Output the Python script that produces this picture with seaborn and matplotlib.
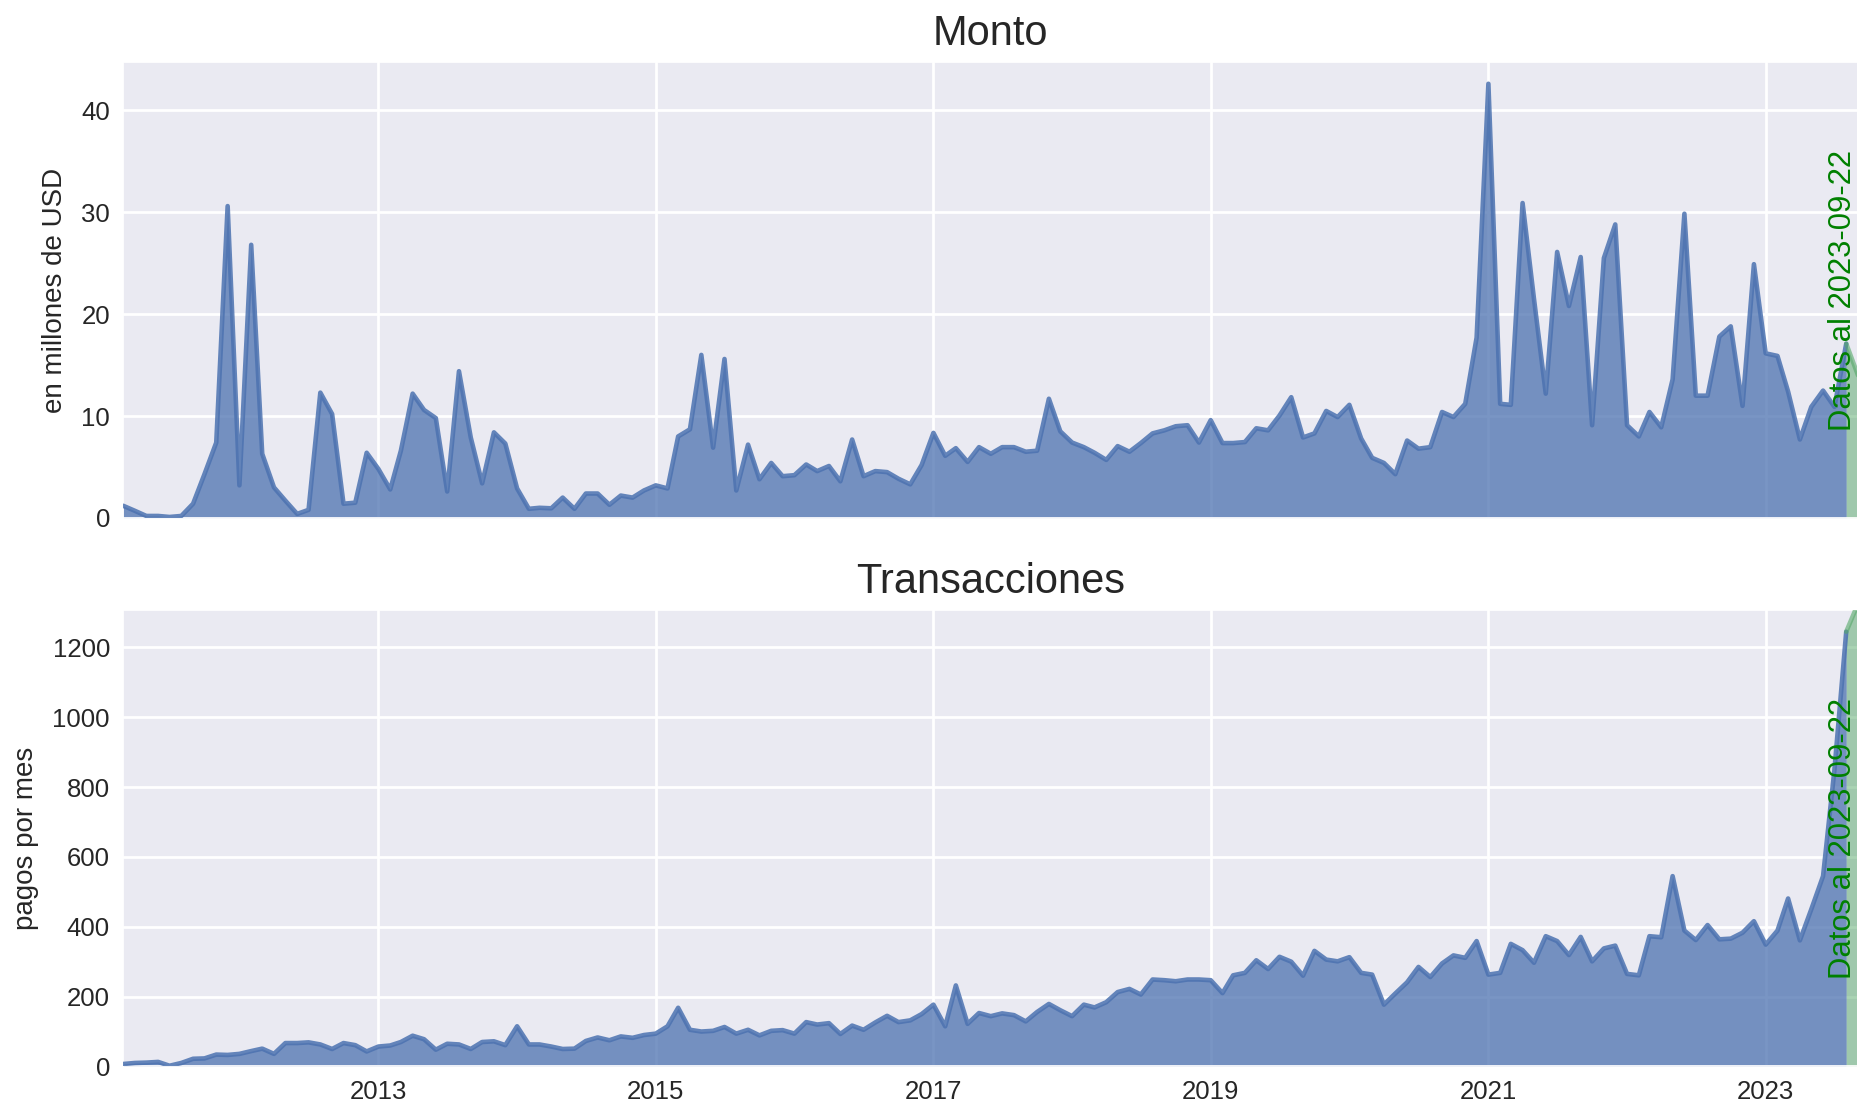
import numpy as np
import pandas as pd
import matplotlib
matplotlib.use("Agg")
import matplotlib.pyplot as plt
import matplotlib.transforms as mtransforms
import seaborn as sns

# ---------------- data ----------------
start_month = "2011-03-01"
partial_month = "2023-09-01"
data_date_label = "Datos al 2023-09-22"

monto = [
    1.2, 0.7, 0.2, 0.2, 0.1, 0.2, 1.4, 4.3, 7.4, 30.6,
    3.2, 26.8, 6.3, 3.0, 1.7, 0.4, 0.8, 12.3, 10.2, 1.4,
    1.5, 6.4, 4.8, 2.8, 6.6, 12.2, 10.6, 9.8, 2.6, 14.4,
    7.9, 3.4, 8.4, 7.3, 2.9, 0.9, 1.0, 0.95, 2.0, 0.9,
    2.4, 2.4, 1.3, 2.2, 2.0, 2.7, 3.2, 2.9, 8.0, 8.7,
    16.0, 6.9, 15.6, 2.7, 7.2, 3.8, 5.4, 4.1, 4.2, 5.25,
    4.6, 5.1, 3.6, 7.7, 4.1, 4.6, 4.5, 3.85, 3.3, 5.2,
    8.35, 6.1, 6.85, 5.5, 6.95, 6.3, 6.95, 6.95, 6.5, 6.6,
    11.7, 8.5, 7.4, 6.95, 6.4, 5.7, 7.05, 6.5, 7.35, 8.3,
    8.6, 9.0, 9.1, 7.4, 9.6, 7.35, 7.35, 7.45, 8.8, 8.6,
    10.05, 11.85, 7.9, 8.3, 10.5, 9.9, 11.1, 7.8, 5.9, 5.4,
    4.3, 7.6, 6.8, 6.95, 10.4, 9.9, 11.2, 17.7, 42.6, 11.2,
    11.1, 30.9, 21.5, 12.2, 26.1, 20.8, 25.6, 9.1, 25.5, 28.8,
    9.1, 8.0, 10.4, 8.9, 13.6, 29.85, 12.0, 12.0, 17.8, 18.8,
    11.0, 24.9, 16.15, 15.9, 12.4, 7.7, 10.9, 12.5, 10.9, 17.1,
]

transacciones = [
    7, 10, 11, 13, 2, 10, 22, 23, 34, 33,
    36, 44, 51, 36, 67, 67, 69, 63, 50, 67,
    61, 43, 57, 60, 70, 88, 78, 48, 65, 63,
    50, 70, 72, 61, 115, 63, 63, 57, 50, 51,
    73, 83, 75, 86, 82, 90, 94, 115, 168, 105,
    100, 102, 113, 94, 105, 89, 102, 104, 94, 127,
    120, 124, 93, 117, 105, 126, 145, 127, 132, 150,
    177, 115, 232, 122, 153, 144, 152, 147, 129, 156,
    179, 161, 144, 177, 169, 184, 213, 222, 206, 249,
    247, 244, 249, 249, 247, 210, 261, 268, 304, 279,
    314, 300, 260, 331, 306, 301, 313, 268, 263, 177,
    209, 241, 285, 256, 295, 318, 311, 359, 263, 268,
    351, 333, 297, 373, 359, 319, 371, 301, 338, 346,
    265, 261, 373, 370, 545, 389, 362, 405, 364, 366,
    383, 416, 349, 389, 481, 361, 450, 545, 850, 1245,
]

# partial (current) month values, shown in green
monto_parcial = 14.0
transacciones_parcial = 1325

titles = ["Monto", "Transacciones"]
ylabels = ["en millones de USD", "pagos por mes"]
tick_years = [2013, 2015, 2017, 2019, 2021, 2023]

# ---------------- style ----------------
sns.set_theme(style="darkgrid")
plt.rcParams["font.family"] = ["Liberation Sans", "DejaVu Sans"]
plt.rcParams["grid.linewidth"] = 2.0

blue = "#4c72b0"
green_fill = "#55a868"

dates = pd.date_range(start_month, periods=len(monto), freq="MS")
end_date = pd.Timestamp(partial_month)

fig = plt.figure(figsize=(18.58, 11.08), dpi=100)
ax1 = fig.add_axes([0.0663, 0.5325, 0.9337, 0.4115])
ax2 = fig.add_axes([0.0663, 0.0375, 0.9337, 0.412], sharex=ax1)

series = [monto, transacciones]
partials = [monto_parcial, transacciones_parcial]

for ax, vals, part, title, ylab in zip([ax1, ax2], series, partials, titles, ylabels):
    df = pd.DataFrame({"fecha": dates, "valor": vals})
    ax.fill_between(df["fecha"], df["valor"], color=blue, alpha=0.75, lw=0, zorder=2)
    sns.lineplot(data=df, x="fecha", y="valor", ax=ax, color=blue, lw=3.3,
                 alpha=0.85, zorder=3)
    # partial month in green
    gx = [dates[-1], end_date]
    gy = [vals[-1], part]
    ax.fill_between(gx, gy, color=green_fill, alpha=0.5, lw=0, zorder=2)
    ax.plot(gx, gy, color=green_fill, lw=3.3, alpha=0.6, zorder=3)

    ax.set_ylim(0, max(vals) * 1.05)
    ax.set_xlim(dates[0], end_date)
    ax.set_title(title, fontsize=30, color="#262626", pad=12)
    ax.set_ylabel(ylab, fontsize=20, color="#262626", labelpad=9.5)
    ax.set_xlabel("")
    ax.tick_params(labelsize=18.5, colors="#262626")

    trans = mtransforms.blended_transform_factory(ax.transData, ax.transAxes)
    ax.text(end_date, 0.5, data_date_label, transform=trans, rotation=90,
            ha="right", va="center", color="green", fontsize=22.3, zorder=5)

ax2.set_xticks([pd.Timestamp(f"{y}-01-01") for y in tick_years])
ax2.set_xticklabels([str(y) for y in tick_years])
plt.setp(ax1.get_xticklabels(), visible=False)

fig.savefig("out.png", dpi=100)
